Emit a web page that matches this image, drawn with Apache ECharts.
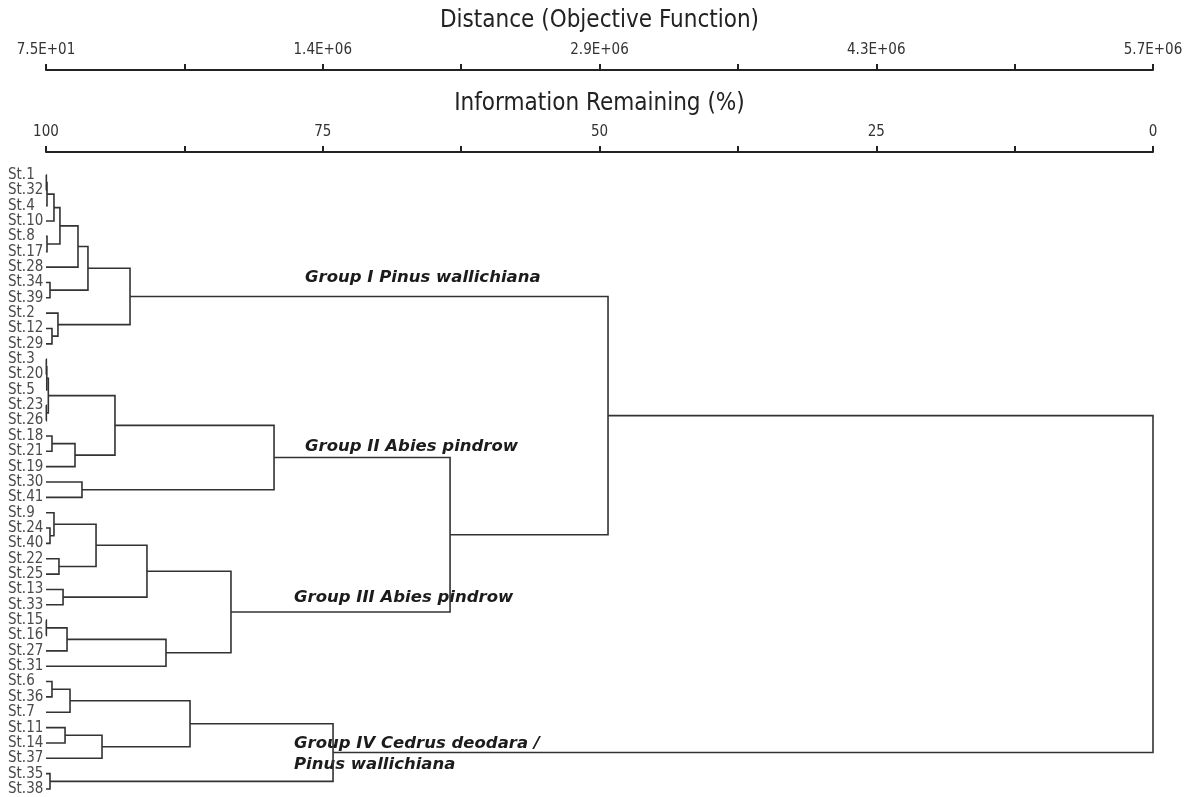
<!DOCTYPE html>
<html>
<head>
<meta charset="utf-8">
<script src="https://cdn.jsdelivr.net/npm/echarts@6/dist/echarts.min.js"></script>
<style>
  html, body { margin: 0; padding: 0; background: #ffffff; }
  #chart { width: 1189px; height: 797px; }
</style>
</head>
<body>
<div id="chart"></div>
<script>
// Sample units, top to bottom in dendrogram order
const leafLabels = [
  'St.1', 'St.32', 'St.4', 'St.10', 'St.8', 'St.17', 'St.28', 'St.34', 'St.39',
  'St.2', 'St.12', 'St.29', 'St.3', 'St.20', 'St.5', 'St.23', 'St.26', 'St.18',
  'St.21', 'St.19', 'St.30', 'St.41', 'St.9', 'St.24', 'St.40', 'St.22', 'St.25',
  'St.13', 'St.33', 'St.15', 'St.16', 'St.27', 'St.31', 'St.6', 'St.36', 'St.7',
  'St.11', 'St.14', 'St.37', 'St.35', 'St.38'
];

// Linkage: a string is a sample unit, a number is an earlier merge (by index)
const mergeLeft = [
  'St.1', 0, 1, 'St.8', 2, 4, 'St.34', 5, 'St.12', 'St.2', 7,
  'St.3', 11, 'St.23', 12, 'St.18', 15, 14, 'St.30', 17,
  'St.24', 'St.9', 'St.22', 21, 'St.13', 23, 'St.15', 26, 27, 25,
  19, 10, 'St.6', 32, 'St.11', 34, 33, 'St.35', 36, 31
];
const mergeRight = [
  'St.32', 'St.4', 'St.10', 'St.17', 3, 'St.28', 'St.39', 6, 'St.29', 8, 9,
  'St.20', 'St.5', 'St.26', 13, 'St.21', 'St.19', 16, 'St.41', 18,
  'St.40', 20, 'St.25', 22, 'St.33', 24, 'St.16', 'St.27', 'St.31', 28,
  29, 30, 'St.36', 'St.7', 'St.14', 'St.37', 35, 'St.38', 37, 38
];
// Information remaining (%) at each fusion
const mergeHeight = [
  99.97, 99.91, 99.28, 99.91, 98.74, 97.11, 99.64, 96.21, 99.46, 98.92, 92.41,
  99.97, 99.93, 99.97, 99.79, 99.46, 97.38, 93.77, 96.75, 79.40,
  99.64, 99.28, 98.83, 95.48, 98.46, 90.88, 99.97, 98.10, 89.16, 83.29,
  63.50, 49.23, 99.46, 97.83, 98.28, 94.94, 86.99, 99.64, 74.07, 0
];

const distanceTicks = ['7.5E+01', '1.4E+06', '2.9E+06', '4.3E+06', '5.7E+06'];

const groupNotes = [
  { text: 'Group I Pinus wallichiana', x: 305, y: 267 },
  { text: 'Group II Abies pindrow', x: 305, y: 436 },
  { text: 'Group III Abies pindrow', x: 294, y: 587 },
  { text: 'Group IV Cedrus deodara /\nPinus wallichiana', x: 294, y: 733 }
];

// Each fusion becomes one bracket: [height, yLeft, yRight, heightLeft, heightRight]
const nodeY = [];
function childOf(ref) {
  if (typeof ref === 'string') return { y: leafLabels.indexOf(ref), h: 100 };
  return { y: nodeY[ref], h: mergeHeight[ref] };
}
const bracketData = mergeHeight.map((h, i) => {
  const a = childOf(mergeLeft[i]);
  const b = childOf(mergeRight[i]);
  nodeY[i] = (a.y + b.y) / 2;
  return [h, a.y, b.y, a.h, b.h];
});

const narrow = "'Liberation Sans Narrow', 'Arial Narrow', 'DejaVu Sans Condensed', sans-serif";
const axisColor = '#222222';

const chart = echarts.init(document.getElementById('chart'));
chart.setOption({
  backgroundColor: '#ffffff',
  animation: false,
  grid: { left: 46, right: 36, top: 167.3, bottom: 0.3, containLabel: false },
  xAxis: [
    {
      type: 'value', position: 'top', offset: 15.3,
      min: 0, max: 100, interval: 12.5, inverse: true,
      name: 'Information Remaining (%)', nameLocation: 'middle', nameGap: 36,
      nameTextStyle: { fontFamily: narrow, fontSize: 24, color: '#222' },
      axisLine: { show: true, onZero: false, lineStyle: { color: axisColor, width: 2 } },
      axisTick: { show: true, length: 6, lineStyle: { color: axisColor, width: 2 } },
      axisLabel: {
        margin: 12, fontFamily: narrow, fontSize: 15, color: '#333',
        formatter: v => (v % 25 === 0 ? String(v) : '')
      },
      splitLine: { show: false }
    },
    {
      type: 'value', position: 'top', offset: 97.3,
      min: 0, max: 5700000, interval: 712500,
      name: 'Distance (Objective Function)', nameLocation: 'middle', nameGap: 37,
      nameTextStyle: { fontFamily: narrow, fontSize: 24, color: '#222' },
      axisLine: { show: true, onZero: false, lineStyle: { color: axisColor, width: 2 } },
      axisTick: { show: true, length: 6, lineStyle: { color: axisColor, width: 2 } },
      axisLabel: {
        margin: 12, fontFamily: narrow, fontSize: 15, color: '#333',
        formatter: (v, i) => (i % 2 === 0 ? distanceTicks[i / 2] : '')
      },
      splitLine: { show: false }
    }
  ],
  yAxis: [
    {
      type: 'category', data: leafLabels, inverse: true,
      axisLine: { show: false }, axisTick: { show: false },
      axisLabel: {
        align: 'left', margin: 38, interval: 0,
        fontFamily: narrow, fontSize: 15, color: '#4a4a4a'
      },
      splitLine: { show: false }
    },
    { type: 'value', min: -0.5, max: 40.5, inverse: true, show: false }
  ],
  series: [{
    type: 'custom',
    xAxisIndex: 0,
    yAxisIndex: 1,
    clip: false,
    encode: { x: [0, 3, 4], y: [1, 2] },
    data: bracketData,
    renderItem: (params, api) => {
      const h = api.value(0), ya = api.value(1), yb = api.value(2);
      const ha = api.value(3), hb = api.value(4);
      return {
        type: 'polyline',
        shape: { points: [api.coord([ha, ya]), api.coord([h, ya]), api.coord([h, yb]), api.coord([hb, yb])] },
        style: { stroke: '#333333', lineWidth: 1.6, fill: null }
      };
    }
  }],
  graphic: groupNotes.map(n => ({
    type: 'text', left: n.x, top: n.y, silent: true,
    style: {
      text: n.text, fill: '#1c1c1c',
      font: "italic bold 16.5px 'DejaVu Sans', sans-serif",
      lineHeight: 21
    }
  }))
});
</script>
</body>
</html>
